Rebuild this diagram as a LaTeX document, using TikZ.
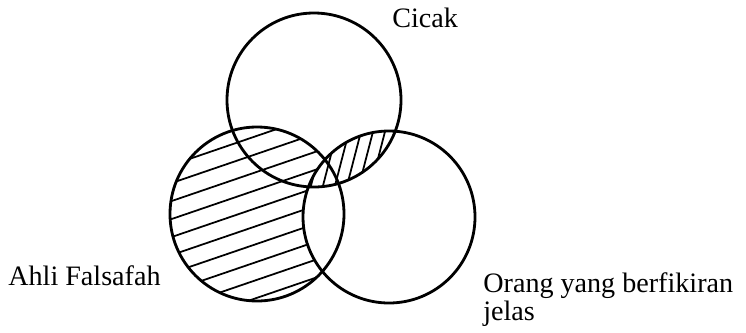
\documentclass[tikz,border=0pt]{standalone}
\usepackage{fontspec}
\setmainfont{Liberation Serif}
\begin{document}
\begin{tikzpicture}[x=0.02cm, y=-0.02cm,
    ring/.style={line width=1.6pt},
    hatch/.style={line width=1pt},
    lbl/.style={font=\fontsize{16}{19}\selectfont, inner sep=0pt, anchor=base west}]
  \useasboundingbox (0,0) rectangle (746,332);
  \coordinate (cicak) at (314,100);
  \coordinate (ahli) at (257,214);
  \coordinate (jelas) at (389,217);
  % arsiran Ahli Falsafah, di luar lingkaran kanan
  \begin{scope}[even odd rule]
    \clip (ahli) circle (87);
    \clip (0,0) rectangle (746,332) (jelas) circle (86);
    \foreach \c in {97,115,...,421}
      \draw[hatch] (160,\c) -- (350,\c-65);
  \end{scope}
  % arsiran irisan Cicak dan kanan
  \begin{scope}
    \clip (cicak) circle (87);
    \clip (jelas) circle (86);
    \foreach \x in {294,306,...,402}
      \draw[hatch] (\x,205) -- (\x+22,120);
  \end{scope}
  \draw[ring] (cicak) circle (87);
  \draw[ring] (ahli) circle (87);
  \draw[ring] (jelas) circle (86);
  \node[lbl] (lcicak) at (392,27) {Cicak};
  \node[lbl] (lahli) at (8,285) {Ahli Falsafah};
  \node[lbl] (lorang) at (483,292) {Orang yang berfikiran};
  \node[lbl] (ljelas) at (483,320) {jelas};
\end{tikzpicture}
\end{document}
